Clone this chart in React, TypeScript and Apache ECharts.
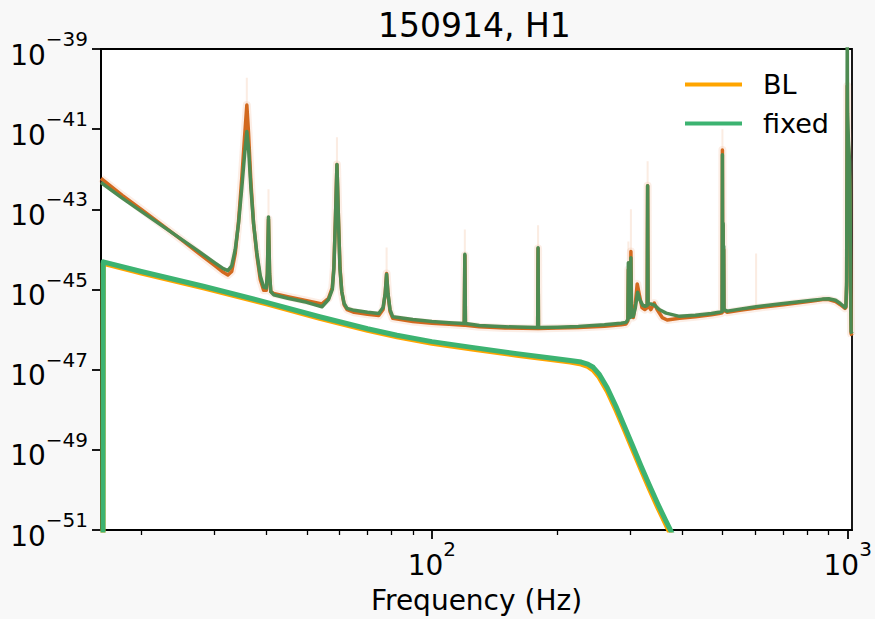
import React, { useEffect, useRef } from 'react';
import * as echarts from 'echarts';

const FONT = 'DejaVu Sans';

const titleText = '150914, H1';
const xAxisName = 'Frequency (Hz)';
const legendNames = ['BL', 'fixed'];

const xRange = [16, 1024];
// y axis in decades (log10 of the plotted power)
const yRange = [-51, -39];
const xMajorTicks = [100, 1000];
const xMinorTicks = [20, 30, 40, 50, 60, 70, 80, 90, 200, 300, 400, 500, 600, 700, 800, 900];
const yMajorTicks = [-51, -49, -47, -45, -43, -41, -39];

// [frequency Hz, log10 of PSD]
const psdFixed: number[][] = [
  [16, -42.33], [18, -42.72], [20, -43.05], [22.5, -43.42], [25, -43.75], [27.5, -44.05],
  [30, -44.33], [31.5, -44.48], [32.3, -44.53], [33.0, -44.41], [33.65, -44.0], [34.27, -43.35],
  [34.9, -42.45], [35.43, -41.64], [35.88, -41.06], [36.22, -41.47], [36.69, -42.45], [37.24, -43.35],
  [37.93, -44.09], [38.65, -44.66], [39.37, -44.94], [39.96, -44.96], [40.2, -44.6], [40.45, -43.19],
  [40.7, -44.6], [40.97, -45.05], [41.6, -45.13], [45, -45.22], [50, -45.32], [54.4, -45.43],
  [56.4, -45.25], [57.6, -45.0], [58.1, -44.49], [58.6, -43.27], [59.1, -41.88], [59.6, -43.27],
  [60.1, -44.49], [60.7, -45.05], [61.5, -45.35], [62.5, -45.47], [65, -45.52], [70, -45.57],
  [74.5, -45.6], [76.3, -45.45], [77.2, -45.1], [77.8, -44.62], [78.4, -45.1], [79.3, -45.5],
  [80.5, -45.68], [90, -45.75], [100, -45.8], [110, -45.83], [119.6, -45.85], [120, -44.12],
  [120.4, -45.85], [130, -45.9], [150, -45.93], [179.6, -45.95], [180, -43.96], [180.4, -45.95],
  [200, -45.94], [225, -45.92], [260, -45.88], [285, -45.84], [293, -45.82], [296.0, -45.75],
  [296.8, -44.33], [297.8, -45.7], [300.3, -45.7], [301.0, -44.21], [302.0, -45.6], [305, -45.67],
  [308.5, -45.45], [312.4, -45.07], [316, -45.25], [321.2, -45.39], [325, -45.42], [329.4, -45.4],
  [330.2, -42.41], [331.0, -45.35], [336, -45.36], [342.8, -45.39], [352, -45.5], [365.8, -45.59],
  [393.9, -45.67], [430, -45.64], [470, -45.6], [490, -45.57], [498.8, -45.55], [499.6, -41.64],
  [500.6, -45.3], [501.6, -43.35], [502.5, -45.3], [503.2, -43.92], [504, -45.5], [513, -45.54],
  [550, -45.49], [602, -45.43], [700, -45.35], [822, -45.27], [870, -45.24], [900, -45.23],
  [935, -45.27], [960, -45.35], [985, -45.45], [990, -45.42], [994, -44.8], [996, -41.5],
  [997.5, -38.5], [999, -40.6], [1004, -41.3], [1010, -41.8], [1013, -42.6], [1016, -45.0],
  [1019, -46.05], [1024, -46.1],
];

const psdBL: number[][] = [
  [16, -42.23], [18, -42.65], [20, -43.0], [22.5, -43.4], [25, -43.76], [27.5, -44.1],
  [30, -44.4], [31.5, -44.57], [32.3, -44.64], [33.0, -44.55], [33.65, -44.1], [34.27, -43.3],
  [34.9, -42.2], [35.43, -41.2], [35.88, -40.4], [36.22, -41.1], [36.69, -42.3], [37.24, -43.35],
  [37.93, -44.15], [38.65, -44.75], [39.37, -45.02], [39.96, -45.02], [40.2, -44.65], [40.45, -43.25],
  [40.7, -44.65], [40.97, -45.05], [41.6, -45.1], [45, -45.18], [50, -45.28], [54.4, -45.36],
  [56.4, -45.22], [57.6, -44.95], [58.1, -44.45], [58.6, -43.25], [59.1, -41.88], [59.6, -43.25],
  [60.1, -44.45], [60.7, -45.05], [61.5, -45.38], [62.5, -45.5], [65, -45.57], [70, -45.62],
  [74.5, -45.65], [76.3, -45.5], [77.2, -45.1], [77.8, -44.6], [78.4, -45.1], [79.3, -45.55],
  [80.5, -45.72], [90, -45.8], [100, -45.84], [110, -45.87], [119.6, -45.89], [120, -44.15],
  [120.4, -45.89], [130, -45.93], [150, -45.96], [179.6, -45.97], [180, -43.98], [180.4, -45.97],
  [200, -45.96], [225, -45.95], [260, -45.92], [285, -45.88], [293, -45.86], [296.0, -45.78],
  [296.8, -44.5], [297.8, -45.7], [300.3, -45.6], [301.0, -44.05], [302.0, -45.5], [305, -45.7],
  [308.5, -45.35], [311.7, -44.86], [315, -45.1], [320, -45.45], [325, -45.5], [329.4, -45.45],
  [330.2, -42.41], [331.0, -45.4], [336, -45.5], [342.6, -45.34], [348, -45.5], [358, -45.7],
  [368, -45.76], [393.9, -45.72], [430, -45.68], [470, -45.63], [490, -45.6], [498.8, -45.58],
  [499.6, -41.52], [500.6, -45.3], [501.6, -43.4], [502.5, -45.3], [503.2, -44.0], [504, -45.52],
  [513, -45.57], [550, -45.52], [602, -45.46], [700, -45.38], [822, -45.29], [870, -45.25],
  [900, -45.25], [935, -45.3], [960, -45.38], [985, -45.47], [990, -45.45], [994, -44.9],
  [996, -42.0], [997.5, -39.92], [999, -41.0], [1004, -41.5], [1010, -42.2], [1013, -42.8],
  [1016, -45.1], [1019, -46.1], [1024, -46.15],
];

// faint upper spread of the BL PSD at its lines: [Hz, log10 base, log10 top]
const blSpread: number[][] = [
  [35.88, -40.4, -39.72], [40.45, -43.25, -42.5], [59.1, -41.88, -41.2], [77.8, -44.6, -43.95],
  [120, -44.15, -43.5], [180, -43.98, -43.4], [296.8, -44.5, -43.8], [301.0, -44.05, -43.0],
  [330.2, -42.41, -41.8], [499.6, -41.52, -41.0], [602, -45.46, -44.1],
];

// [frequency Hz, log10 of signal power]
const signalFixed: number[][] = [
  [16.15, -60], [16.2, -44.31], [20, -44.55], [28.2, -44.92], [40, -45.32], [53.7, -45.68],
  [70, -45.98], [82.4, -46.14], [100, -46.3], [126, -46.45], [160, -46.6], [193, -46.71],
  [215, -46.77], [228.6, -46.81], [237, -46.86], [244.3, -46.94], [252.4, -47.11], [264, -47.45],
  [277.2, -47.92], [290, -48.4], [303.9, -48.9], [318, -49.39], [333.3, -49.88], [349, -50.34],
  [365.6, -50.78], [375.8, -51.03], [420, -52.2],
];

const signalBL: number[][] = [
  [16.15, -60], [16.2, -44.35], [20, -44.59], [28.2, -44.96], [40, -45.36], [53.7, -45.72],
  [70, -46.02], [82.4, -46.18], [100, -46.34], [126, -46.49], [160, -46.64], [193, -46.75],
  [215, -46.81], [228.6, -46.86], [237, -46.92], [244.3, -47.01], [252.4, -47.19], [264, -47.54],
  [277.2, -48.01], [290, -48.49], [303.9, -48.99], [318, -49.48], [333.3, -49.97], [349, -50.43],
  [365.6, -50.87], [375.8, -51.12], [420, -52.3],
];

const colors = {
  blPsd: '#d2691e',
  blBand: '#f0b28c',
  fixedPsd: '#4d8b52',
  blSignal: '#ffa500',
  fixedSignal: '#3cb371',
};

const spreadPoints = () => {
  const out: any[] = [];
  blSpread.forEach(([f, b, t]) => {
    out.push([f, b]);
    out.push([f, t]);
    out.push([f, '-']);
  });
  return out;
};

const minus = (n: number) => (n < 0 ? '\u2212' + String(-n) : String(n));
const expLabel = (v: number) => '{b|10}{s|' + minus(Math.round(v)) + '}';
const expLabelLog = (v: number) => '{b|10}{s|' + minus(Math.round(Math.log10(v))) + '}';

const rich = {
  b: { fontFamily: FONT, fontSize: 28, color: '#000', lineHeight: 40, verticalAlign: 'bottom' },
  s: { fontFamily: FONT, fontSize: 20, color: '#000', lineHeight: 20, verticalAlign: 'top' },
};

const lineSeries = (name: string, data: any[], color: string, width: number, opacity = 1, z = 2) => ({
  name,
  type: 'line',
  data,
  symbol: 'none',
  showSymbol: false,
  clip: true,
  silent: true,
  z,
  color,
  itemStyle: { color },
  lineStyle: { color, width, opacity, cap: 'butt', join: 'round' },
  emphasis: { disabled: true },
  connectNulls: false,
});

export default function App() {
  const ref = useRef<HTMLDivElement>(null);
  useEffect(() => {
    if (!ref.current) return;
    const chart = echarts.init(ref.current, undefined, { renderer: 'svg' });
    const tickLine = { color: '#000', width: 1.8 };
    chart.setOption({
      animation: false,
      backgroundColor: '#f8f8f8',
      title: {
        text: titleText,
        left: 373,
        top: 4,
        textStyle: { fontFamily: FONT, fontSize: 33, fontWeight: 'normal', color: '#000' },
      },
      legend: {
        data: legendNames,
        orient: 'vertical',
        left: 680,
        top: 66,
        icon: 'rect',
        itemWidth: 57,
        itemHeight: 4,
        itemGap: 12,
        selectedMode: false,
        textStyle: { fontFamily: FONT, fontSize: 27, color: '#000', padding: [0, 0, 0, 16] },
      },
      grid: {
        left: 101, top: 49, width: 751, height: 490,
        show: true, backgroundColor: '#fff', borderColor: '#000', borderWidth: 1.8,
        containLabel: false,
      },
      xAxis: [
        {
          type: 'log', logBase: 10, min: xRange[0], max: xRange[1],
          name: xAxisName, nameLocation: 'middle', nameGap: 56,
          nameTextStyle: { fontFamily: FONT, fontSize: 28, color: '#000' },
          axisLine: { show: true, onZero: false, lineStyle: tickLine },
          axisTick: { show: true, customValues: xMajorTicks, length: 9, lineStyle: tickLine },
          axisLabel: { show: true, customValues: xMajorTicks, margin: 9, formatter: expLabelLog, rich },
          splitLine: { show: false }, minorTick: { show: false }, minorSplitLine: { show: false },
        },
        {
          type: 'log', logBase: 10, min: xRange[0], max: xRange[1], position: 'bottom',
          axisLine: { show: false },
          axisTick: { show: true, customValues: xMinorTicks, length: 5, lineStyle: { color: '#000', width: 1.3 } },
          axisLabel: { show: false },
          splitLine: { show: false }, minorTick: { show: false },
        },
      ],
      yAxis: {
        type: 'value', min: yRange[0], max: yRange[1],
        axisLine: { show: true, onZero: false, lineStyle: tickLine },
        axisTick: { show: true, customValues: yMajorTicks, length: 9, lineStyle: tickLine },
        axisLabel: { show: true, customValues: yMajorTicks, margin: 13, formatter: expLabel, rich },
        splitLine: { show: false }, minorTick: { show: false }, minorSplitLine: { show: false },
      },
      series: [
        lineSeries('BL band', psdBL, colors.blBand, 8, 0.22, 1),
        lineSeries('BL spread', spreadPoints(), colors.blBand, 2, 0.25, 1),
        lineSeries('BL PSD', psdBL, colors.blPsd, 3.5, 1, 2),
        lineSeries('fixed PSD', psdFixed, colors.fixedPsd, 3.5, 1, 3),
        lineSeries('BL', signalBL, colors.blSignal, 5, 1, 4),
        lineSeries('fixed', signalFixed, colors.fixedSignal, 5, 1, 5),
      ],
    });
    return () => chart.dispose();
  }, []);
  return <div ref={ref} style={{ position: 'absolute', left: 0, top: 0, width: 875, height: 619 }} />;
}
